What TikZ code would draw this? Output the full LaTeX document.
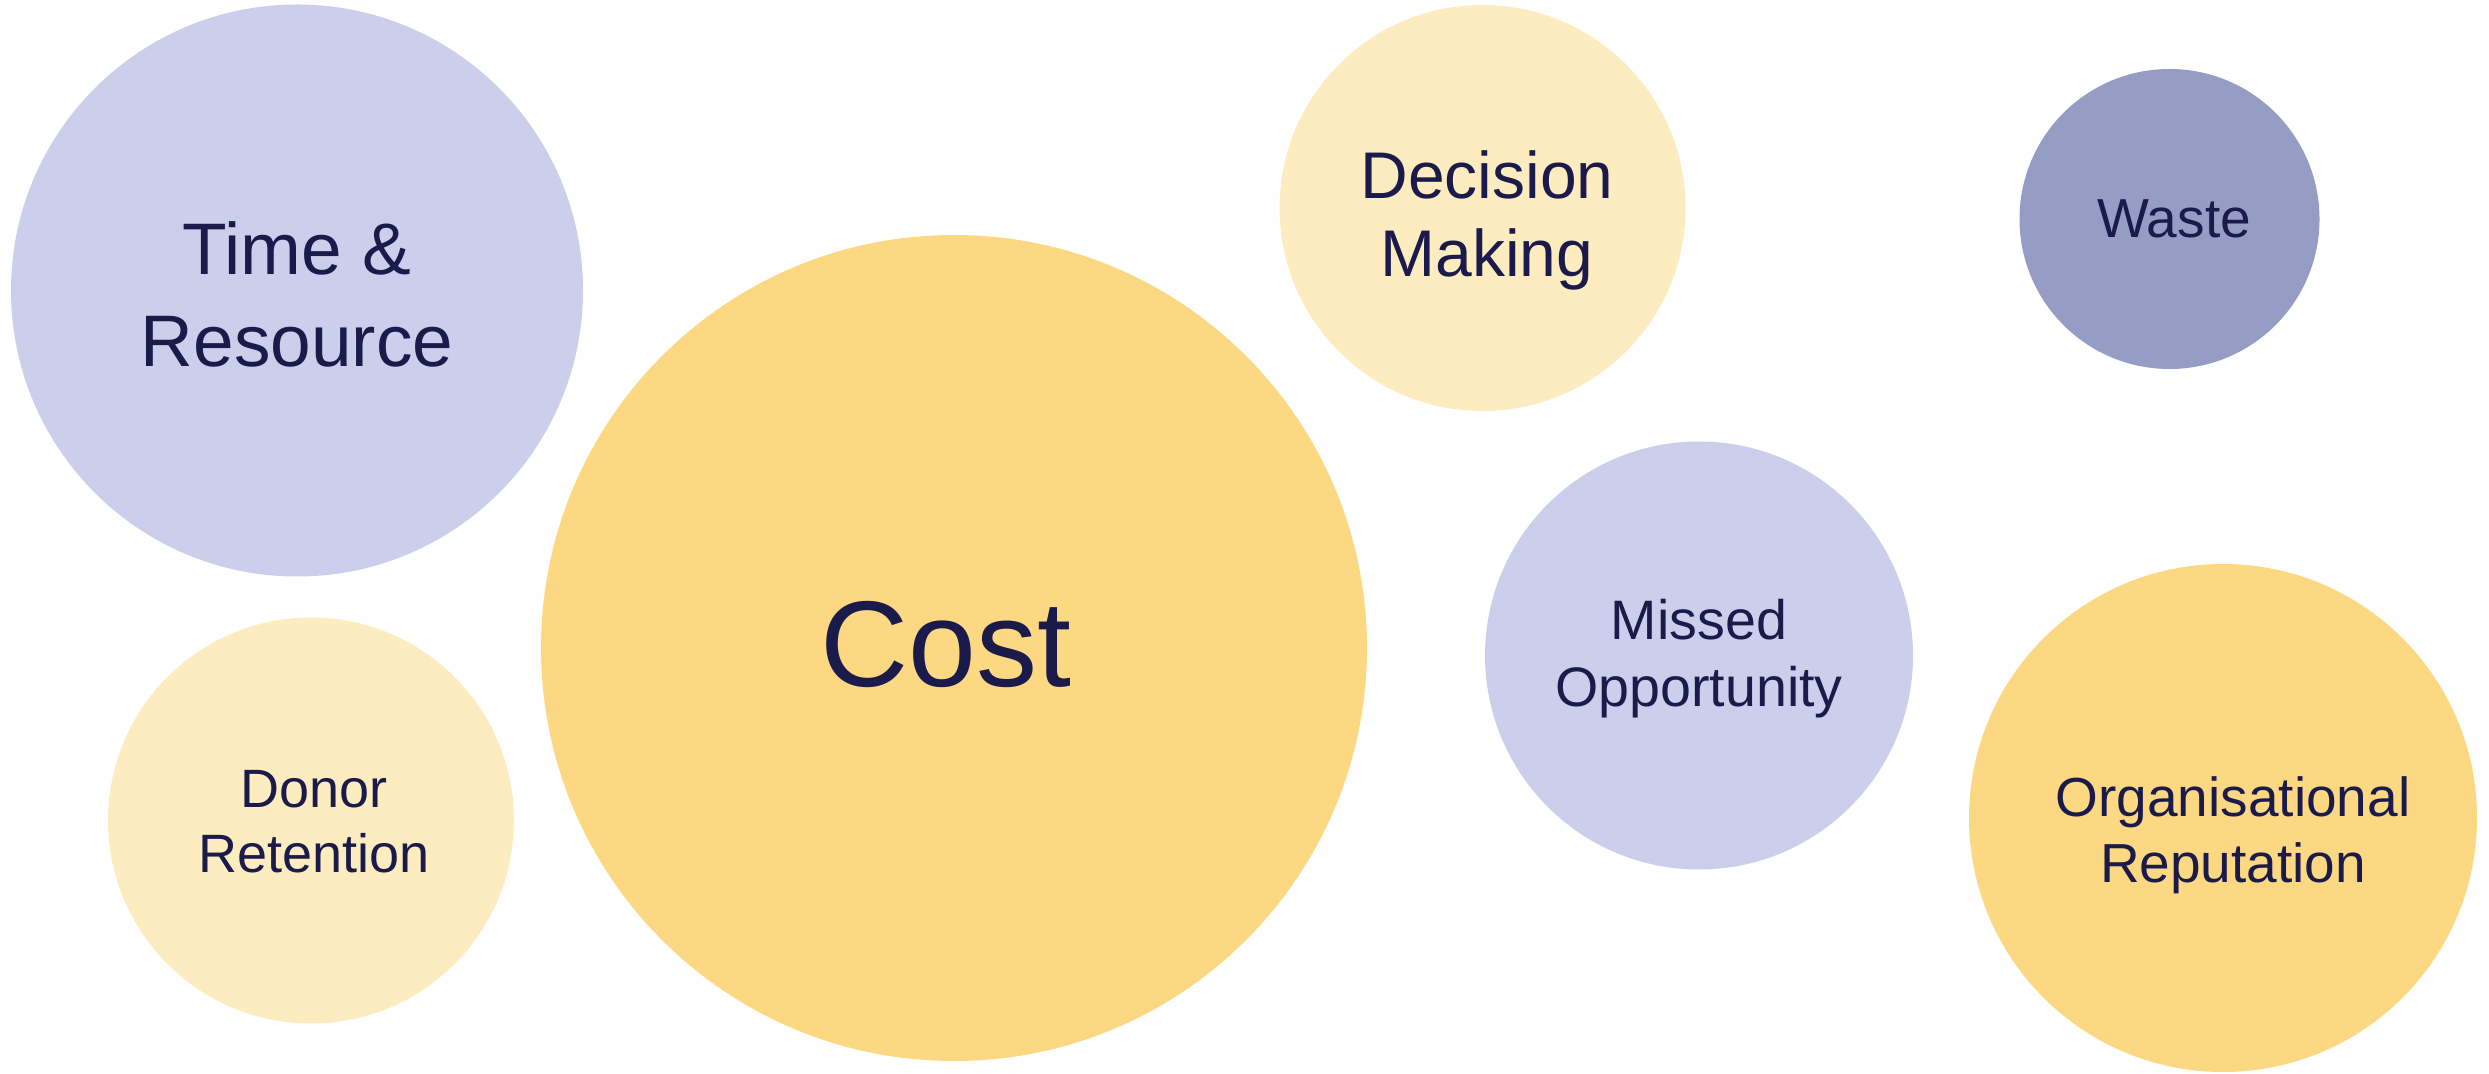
\documentclass[tikz,border=0pt]{standalone}
\usepackage{fontspec}
\setmainfont{Liberation Sans}
\definecolor{lav}{HTML}{CBCFEB}
\definecolor{gold}{HTML}{FDD882}
\definecolor{cream}{HTML}{FEECC1}
\definecolor{slate}{HTML}{959DC4}
\definecolor{ink}{HTML}{1A1B4B}
\begin{document}
\begin{tikzpicture}[x=0.5pt,y=-0.5pt,
  bubble/.style={circle, inner sep=0pt, draw=none},
  lbl/.style={align=center, text=ink, inner sep=0pt, text depth=0pt}]
\useasboundingbox (0,0) rectangle (2489,1074);
% circles
\node[bubble, fill=lav,   minimum size=286pt] (time)   at (297,290.5) {};
\node[bubble, fill=gold,  minimum size=413pt] (cost)   at (954,648) {};
\node[bubble, fill=cream, minimum size=203pt] (decide) at (1482.5,208) {};
\node[bubble, fill=slate, minimum size=150pt] (waste)  at (2169.5,219) {};
\node[bubble, fill=lav,   minimum size=214pt] (missed) at (1699,655.5) {};
\node[bubble, fill=gold,  minimum size=254pt] (org)    at (2223,818) {};
\node[bubble, fill=cream, minimum size=203pt] (donor)  at (311,820.5) {};
% labels
\node[lbl, font=\fontsize{36.5}{46}\selectfont, text height=26.1pt] (timelbl) at (297,340) {Time \&\\Resource};
\node[lbl, font=\fontsize{61}{70}\selectfont, text height=43.7pt] (costlbl) at (946,643) {Cost};
\node[lbl, font=\fontsize{33}{39}\selectfont, text height=23.6pt] (decidelbl) at (1487,252.5) {Decision\\Making};
\node[lbl, font=\fontsize{27.5}{33}\selectfont, text height=19.7pt] (wastelbl) at (2174,218) {Waste};
\node[lbl, font=\fontsize{27.8}{33.5}\selectfont, text height=19.9pt] (missedlbl) at (1699,686.5) {Missed\\Opportunity};
\node[lbl, font=\fontsize{27.5}{33}\selectfont, text height=19.7pt] (orglbl) at (2233,863) {Organisational\\Reputation};
\node[lbl, font=\fontsize{27}{32.5}\selectfont, text height=19.3pt] (donorlbl) at (314,853.5) {Donor\\Retention};
\end{tikzpicture}
\end{document}
